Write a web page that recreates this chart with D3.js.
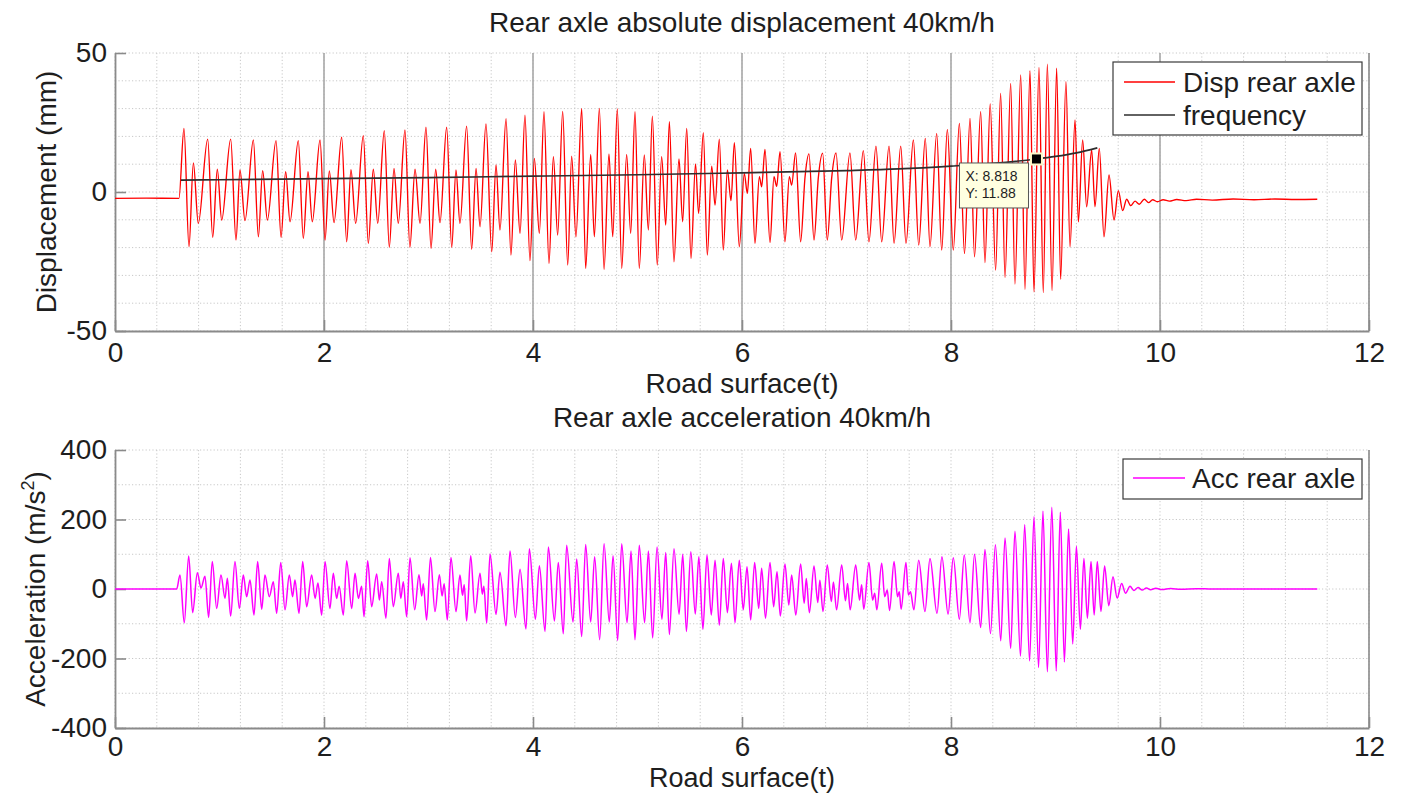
<!DOCTYPE html>
<html>
<head>
<meta charset="utf-8">
<script src="https://cdn.jsdelivr.net/npm/d3@7"></script>
<style>
  html, body { margin: 0; padding: 0; background: #ffffff; }
  svg text { font-family: "Liberation Sans", Arial, Helvetica, sans-serif; fill: #1e1e1e; }
</style>
</head>
<body>
<svg id="chart" width="1402" height="793"></svg>
<script>
// ---- axis ticks ----
const timeTicks = [0, 2, 4, 6, 8, 10, 12];
const dispTicks = [-50, 0, 50];
const accTicks = [-400, -200, 0, 200, 400];

// ---- rear axle displacement (mm): turning points of the trace ----
const dispTime = [
  0, 0.30, 0.612, 0.660, 0.708, 0.750, 0.797, 0.887, 0.935, 0.979, 1.021,
  1.107, 1.158, 1.196, 1.244, 1.324, 1.372, 1.413, 1.458, 1.541, 1.589, 1.633, 1.675,
  1.754, 1.802, 1.847, 1.888, 1.962, 2.010, 2.051, 2.096, 2.169, 2.217, 2.258, 2.303,
  2.376, 2.424, 2.472, 2.514, 2.577, 2.625, 2.670, 2.711, 2.775, 2.822, 2.871, 2.919,
  2.976, 3.024, 3.069, 3.110, 3.174, 3.222, 3.263, 3.301, 3.365, 3.413, 3.455, 3.493,
  3.550, 3.605, 3.646, 3.684, 3.742, 3.789, 3.831, 3.876, 3.923, 3.971, 4.013, 4.061,
  4.105, 4.153, 4.195, 4.236, 4.284, 4.332, 4.370, 4.411, 4.466, 4.504, 4.552, 4.587,
  4.635, 4.680, 4.727, 4.763, 4.807, 4.849, 4.896, 4.935, 4.976, 5.017, 5.065, 5.104,
  5.142, 5.189, 5.231, 5.270, 5.305, 5.349, 5.397, 5.432, 5.471, 5.512, 5.555, 5.585,
  5.630, 5.668, 5.710, 5.742, 5.783, 5.821, 5.860, 5.895, 5.927, 5.974, 6.022, 6.051,
  6.083, 6.124, 6.166, 6.188, 6.220, 6.268, 6.306, 6.332, 6.364, 6.411, 6.453, 6.475,
  6.513, 6.561, 6.603, 6.641, 6.689, 6.730, 6.772, 6.816, 6.858, 6.900, 6.954,
  7.033, 7.088, 7.161, 7.215, 7.282, 7.337, 7.407, 7.455, 7.519, 7.569,
  7.640, 7.691, 7.754, 7.799, 7.863, 7.911, 7.965, 8.022, 8.080, 8.129, 8.182, 8.225,
  8.284, 8.325, 8.375, 8.427, 8.475, 8.517, 8.571, 8.612, 8.667, 8.708, 8.756, 8.794,
  8.842, 8.883, 8.922, 8.967, 9.011, 9.049, 9.100, 9.139, 9.187, 9.219, 9.260, 9.298,
  9.346, 9.378, 9.419, 9.464, 9.512, 9.560, 9.601, 9.643, 9.681, 9.720, 9.761, 9.802,
  9.850, 9.890, 9.930, 9.975, 10.03, 10.09, 10.16, 10.25, 10.35, 10.50, 10.70, 10.90,
  11.10, 11.30, 11.505
];
const dispValue = [
  -2.3, -2.2, -2.3, 22.9, -19.7, 10.5, -11.3, 19.0, -16.3, 8.2, -10.1,
  19.0, -17.3, 7.9, -10.3, 18.7, -16.1, 7.7, -10.1, 18.5, -16.3, 7.3, -10.7,
  18.5, -16.7, 7.3, -10.7, 18.7, -17.3, 7.6, -11.0, 19.7, -17.9, 8.0, -11.3,
  20.3, -18.5, 8.2, -11.3, 22.1, -19.9, 8.5, -11.3, 22.3, -19.9, 8.2, -11.3,
  23.3, -20.3, 8.2, -11.0, 23.3, -19.9, 7.9, -11.3, 23.7, -20.6, 8.5, -12.5,
  24.5, -21.5, 9.7, -13.7, 26.4, -22.7, 11.5, -14.9, 27.6, -24.7, 12.1, -14.9,
  28.9, -25.7, 12.7, -15.5, 29.0, -26.3, 12.9, -16.1, 30.0, -27.5, 13.5, -16.1,
  30.1, -27.8, 13.7, -16.1, 29.9, -27.5, 13.5, -14.9, 28.9, -27.5, 13.3, -13.7,
  27.3, -26.3, 12.7, -11.9, 25.3, -25.1, 11.9, -10.7, 22.9, -23.9, 10.1, -7.7,
  21.3, -22.7, 9.3, -4.7, 19.0, -20.9, 7.9, -3.1, 17.7, -19.7, 6.7, -0.5,
  15.7, -18.5, 5.5, 1.9, 15.3, -18.2, 5.5, 2.0, 14.5, -17.9, 5.5, 2.5,
  14.1, -17.9, 5.3, 13.7, -17.3, 5.0, 14.0, -17.3, 5.0, 14.1, -17.3,
  14.1, -17.3, 14.9, -17.9, 16.5, -17.9, 16.5, -18.5, 16.5, -18.5,
  18.7, -19.1, 19.3, -19.7, 21.1, -20.9, 22.5, -20.9, 24.7, -22.1, 26.5, -23.3,
  28.9, -25.4, 31.7, -28.1, 35.5, -30.7, 39.1, -33.1, 42.1, -35.0, 43.6, -35.9,
  44.8, -36.2, 46.0, -35.5, 44.5, -31.4, 39.7, -19.7, 25.9, -10.7, 18.7, -5.3,
  15.1, -5.3, 15.7, -16.1, 6.1, -10.1, 0.5, -6.7, -2.6, -4.9, -3.3, -4.4,
  -2.6, -3.8, -2.8, -3.5, -2.8, -3.3, -2.7, -3.1, -2.6, -2.9, -2.5, -2.8,
  -2.5, -2.7, -2.6
];

// ---- excitation frequency curve ----
const freqTime = [0.63, 1.0, 2.0, 3.0, 4.0, 5.0, 6.0, 7.0, 7.5, 8.0, 8.4, 8.818, 9.0, 9.2, 9.4];
const freqValue = [4.3, 4.4, 4.8, 5.2, 5.7, 6.2, 6.9, 7.7, 8.3, 9.3, 10.3, 11.88, 12.8, 14.1, 15.9];

// ---- data tip ----
const tipTime = 8.818;
const tipValue = 11.88;

// ---- rear axle acceleration (m/s^2): turning points of the trace ----
const accTime = [
  0, 0.590, 0.622, 0.663, 0.705, 0.743, 0.788, 0.823, 0.861,
  0.896, 0.931, 0.973, 1.014, 1.053, 1.075, 1.107, 1.148, 1.190, 1.228, 1.260, 1.292,
  1.330, 1.365, 1.404, 1.435, 1.477, 1.515, 1.547, 1.586, 1.627, 1.668, 1.700, 1.722,
  1.761, 1.796, 1.834, 1.882, 1.915, 1.942, 1.978, 2.010, 2.057, 2.089, 2.121, 2.145,
  2.185, 2.217, 2.265, 2.297, 2.329, 2.360, 2.383, 2.418, 2.456, 2.504, 2.530, 2.552,
  2.593, 2.625, 2.663, 2.711, 2.735, 2.759, 2.791, 2.823, 2.868, 2.909, 2.935, 2.950,
  2.982, 3.019, 3.062, 3.104, 3.130, 3.150, 3.180, 3.215, 3.263, 3.301, 3.325, 3.342,
  3.365, 3.404, 3.445, 3.493, 3.515, 3.530, 3.557, 3.589, 3.646, 3.684,
  3.742, 3.780, 3.831, 3.876, 3.933, 3.965, 4.023, 4.061, 4.115, 4.147, 4.205, 4.242,
  4.290, 4.322, 4.383, 4.418, 4.466, 4.504, 4.552, 4.590, 4.638, 4.680, 4.730, 4.766,
  4.810, 4.849, 4.900, 4.938, 4.976, 5.017, 5.068, 5.104, 5.145, 5.187, 5.234, 5.270,
  5.305, 5.349, 5.398, 5.433, 5.468, 5.510, 5.553, 5.587, 5.626, 5.665, 5.706, 5.742,
  5.783, 5.821, 5.860, 5.899, 5.933, 5.974, 6.012, 6.048, 6.083, 6.121, 6.160, 6.188,
  6.225, 6.268, 6.303, 6.335, 6.367, 6.411, 6.448, 6.475, 6.515, 6.561, 6.595, 6.615,
  6.645, 6.689, 6.725, 6.745, 6.775, 6.816, 6.855, 6.875, 6.905, 6.954, 6.990, 7.010,
  7.035, 7.088, 7.125, 7.145, 7.165, 7.215, 7.250, 7.270, 7.290, 7.337, 7.365, 7.390,
  7.412, 7.455, 7.488, 7.505, 7.523, 7.569, 7.592, 7.612, 7.645, 7.691, 7.751, 7.799,
  7.866, 7.913, 7.972, 8.022, 8.080, 8.127, 8.182, 8.225, 8.284, 8.325, 8.378, 8.425,
  8.476, 8.517, 8.571, 8.612, 8.665, 8.705, 8.752, 8.794, 8.838, 8.880, 8.922, 8.965,
  9.007, 9.046, 9.085, 9.125, 9.165, 9.200, 9.238, 9.272, 9.305, 9.340, 9.370, 9.400,
  9.435, 9.470, 9.510, 9.550, 9.590, 9.633, 9.670, 9.713, 9.750, 9.790, 9.830, 9.870,
  9.910, 9.960, 10.02, 10.10, 10.20, 10.35, 10.50, 11.505
];
const accValue = [
  0, 0, 40, -97, 95, -68, 47, 3, 37,
  -82, 79, -56, 40, -27, 31, -78, 79, -56, 40, -22, 26,
  -75, 79, -58, 40, -22, 21, -70, 76, -60, 40, -22, 26,
  -70, 79, -51, 40, -27, 17, -75, 79, -56, 45, -27, 8,
  -75, 81, -56, 45, -27, 8, -80, 81, -51, 43, -32, 21,
  -84, 88, -51, 45, -27, 21, -80, 90, -60, 41, -20, 15,
  -89, 91, -65, 41, -20, 15, -89, 91, -65, 40, -18, 12,
  -92, 96, -69, 45, -15, 8, -98, 101, -73, 48,
  -106, 109, -82, 57, -115, 116, -87, 67, -122, 121, -92, 76,
  -129, 126, -95, 86, -137, 128, -95, 93, -146, 130, -95, 96,
  -148, 130, -97, 109, -146, 126, -97, 109, -141, 121, -87, 105,
  -131, 116, -73, 100, -122, 107, -72, 93, -116, 98, -75, 83,
  -104, 88, -68, 74, -97, 83, -60, 64, -89, 76, -56, 60,
  -84, 76, -51, 50, -78, 72, -46, 40, -75, 72, -41, 30,
  -68, 66, -39, 25, -65, 69, -36, 20, -60, 69, -34, 16,
  -60, 69, -32, 12, -58, 76, -32, -12, -60, 74, -22, -3,
  -62, 79, -22, -8, -58, 76, -17, -8, -60, 83, -65, 88,
  -70, 93, -72, 90, -87, 98, -97, 100, -111, 114, -128, 127,
  -149, 147, -171, 166, -193, 185, -207, 208, -226, 224, -238, 235,
  -236, 221, -210, 173, -158, 123, -116, 88, -84, 79, -75, 79,
  -65, 66, -48, 35, -26, 16, -12, 8, -4, 4, -3, 3,
  -2, 2, -1.5, 1.5, -1, 1, 0, 0
];

// ---- layout ----
const plotLeft = 115, plotRight = 1369;
const fontSize = 28;
const svg = d3.select("#chart");

const x = d3.scaleLinear().domain([0, 12]).range([plotLeft, plotRight]);
const minorTimes = d3.range(0, 12.0001, 0.4);
const plainNumber = d => String(d);   // hyphen-minus, as on the axes

function drawFrame(y, yTicks, minorStep, solidMajor, xPad) {
  const [bottom, top] = y.range();
  const g = svg.append("g");

  // dotted minor grid
  g.selectAll("line.vgrid").data(minorTimes).join("line")
    .attr("x1", d => x(d)).attr("x2", d => x(d))
    .attr("y1", top).attr("y2", bottom)
    .attr("stroke", "#c8c8c8").attr("stroke-width", 1)
    .attr("stroke-dasharray", "1.2,2.2");
  const yMinor = d3.range(y.domain()[0], y.domain()[1] + 0.001, minorStep);
  g.selectAll("line.hgrid").data(yMinor).join("line")
    .attr("x1", plotLeft).attr("x2", plotRight)
    .attr("y1", d => y(d)).attr("y2", d => y(d))
    .attr("stroke", "#c8c8c8").attr("stroke-width", 1)
    .attr("stroke-dasharray", "1.2,2.2");

  if (solidMajor) {
    g.selectAll("line.major").data(timeTicks.slice(1, -1)).join("line")
      .attr("x1", d => x(d)).attr("x2", d => x(d))
      .attr("y1", top).attr("y2", bottom)
      .attr("stroke", "#a8a8a8").attr("stroke-width", 1.6);
  }

  // right edge of the box
  g.append("line")
    .attr("x1", plotRight).attr("x2", plotRight).attr("y1", top).attr("y2", bottom)
    .attr("stroke", "#8a8a8a").attr("stroke-width", 1.6);

  const xAxis = d3.axisBottom(x).tickValues(timeTicks).tickFormat(plainNumber)
    .tickSizeInner(-11).tickSizeOuter(0).tickPadding(xPad);
  const yAxis = d3.axisLeft(y).tickValues(yTicks).tickFormat(plainNumber)
    .tickSizeInner(-11).tickSizeOuter(0).tickPadding(8);

  const gx = g.append("g").attr("transform", `translate(0,${bottom})`).call(xAxis);
  const gy = g.append("g").attr("transform", `translate(${plotLeft},0)`).call(yAxis);
  [gx, gy].forEach(a => {
    a.select(".domain").attr("stroke", "#8a8a8a").attr("stroke-width", 1.8);
    a.selectAll(".tick line").attr("stroke", "#8a8a8a").attr("stroke-width", 1.6);
    a.selectAll(".tick text").attr("font-size", fontSize)
      .attr("font-family", "'Liberation Sans', Arial, sans-serif").attr("fill", "#1e1e1e");
  });
  return g;
}

function trace(xs, ys, yScale) {
  return d3.line()
    .x((d, i) => x(xs[i]))
    .y((d, i) => yScale(ys[i]))
    .curve(d3.curveMonotoneX)(xs);
}

// ================= displacement panel =================
const yDisp = d3.scaleLinear().domain([-50, 50]).range([331, 53]);
drawFrame(yDisp, dispTicks, 10, true, 11);

svg.append("path").attr("d", trace(dispTime, dispValue, yDisp))
  .attr("fill", "none").attr("stroke", "#ff0000").attr("stroke-width", 1.35)
  .attr("stroke-linejoin", "round");
svg.append("path").attr("d", trace(freqTime, freqValue, yDisp))
  .attr("fill", "none").attr("stroke", "#2e2e2e").attr("stroke-width", 1.7);

svg.append("text").attr("x", (plotLeft + plotRight) / 2).attr("y", 32)
  .attr("text-anchor", "middle").attr("font-size", fontSize)
  .text("Rear axle absolute displacement 40km/h");
svg.append("text").attr("x", (plotLeft + plotRight) / 2).attr("y", 393)
  .attr("text-anchor", "middle").attr("font-size", fontSize)
  .text("Road surface(t)");
svg.append("text").attr("transform", "translate(56,192) rotate(-90)")
  .attr("text-anchor", "middle").attr("font-size", fontSize)
  .text("Displacement (mm)");

// legend
const leg1 = svg.append("g");
leg1.append("rect").attr("x", 1113).attr("y", 62).attr("width", 249).attr("height", 73)
  .attr("fill", "#ffffff").attr("stroke", "#3a3a3a").attr("stroke-width", 1.2);
leg1.append("line").attr("x1", 1124).attr("x2", 1175).attr("y1", 82).attr("y2", 82)
  .attr("stroke", "#ff0000").attr("stroke-width", 1.35);
leg1.append("text").attr("x", 1183).attr("y", 92).attr("font-size", fontSize).text("Disp rear axle");
leg1.append("line").attr("x1", 1124).attr("x2", 1175).attr("y1", 115).attr("y2", 115)
  .attr("stroke", "#2e2e2e").attr("stroke-width", 1.7);
leg1.append("text").attr("x", 1183).attr("y", 125).attr("font-size", fontSize).text("frequency");

// data tip
const tipX = x(tipTime), tipY = yDisp(tipValue);
const tip = svg.append("g");
tip.append("rect").attr("x", tipX - 77).attr("y", tipY + 4).attr("width", 69).attr("height", 45)
  .attr("fill", "#ffffe1").attr("stroke", "#555555").attr("stroke-width", 1);
tip.append("text").attr("x", tipX - 71).attr("y", tipY + 22).attr("font-size", 14)
  .text("X: " + tipTime.toFixed(3));
tip.append("text").attr("x", tipX - 71).attr("y", tipY + 39).attr("font-size", 14)
  .text("Y: " + tipValue.toFixed(2));
tip.append("rect").attr("x", tipX - 5.5).attr("y", tipY - 5.5).attr("width", 11).attr("height", 11)
  .attr("fill", "#000000").attr("stroke", "#fff8c8").attr("stroke-width", 2);

// ================= acceleration panel =================
const yAcc = d3.scaleLinear().domain([-400, 400]).range([728, 450]);
drawFrame(yAcc, accTicks, 100, false, 8.5);

svg.append("path").attr("d", trace(accTime, accValue, yAcc))
  .attr("fill", "none").attr("stroke", "#ff00ff").attr("stroke-width", 1.5)
  .attr("stroke-linejoin", "round");

svg.append("text").attr("x", (plotLeft + plotRight) / 2).attr("y", 427)
  .attr("text-anchor", "middle").attr("font-size", fontSize)
  .text("Rear axle acceleration 40km/h");
svg.append("text").attr("x", (plotLeft + plotRight) / 2).attr("y", 787)
  .attr("text-anchor", "middle").attr("font-size", 27)
  .text("Road surface(t)");
const accLabel = svg.append("text").attr("transform", "translate(45,589) rotate(-90)")
  .attr("text-anchor", "middle").attr("font-size", fontSize);
accLabel.append("tspan").text("Acceleration (m/s");
accLabel.append("tspan").attr("font-size", 18).attr("dy", -11).text("2");
accLabel.append("tspan").attr("dy", 11).text(")");

const leg2 = svg.append("g");
leg2.append("rect").attr("x", 1123).attr("y", 459).attr("width", 239).attr("height", 40)
  .attr("fill", "#ffffff").attr("stroke", "#3a3a3a").attr("stroke-width", 1.2);
leg2.append("line").attr("x1", 1133).attr("x2", 1185).attr("y1", 478).attr("y2", 478)
  .attr("stroke", "#ff00ff").attr("stroke-width", 1.5);
leg2.append("text").attr("x", 1192).attr("y", 488).attr("font-size", fontSize).text("Acc rear axle");
</script>
</body>
</html>
